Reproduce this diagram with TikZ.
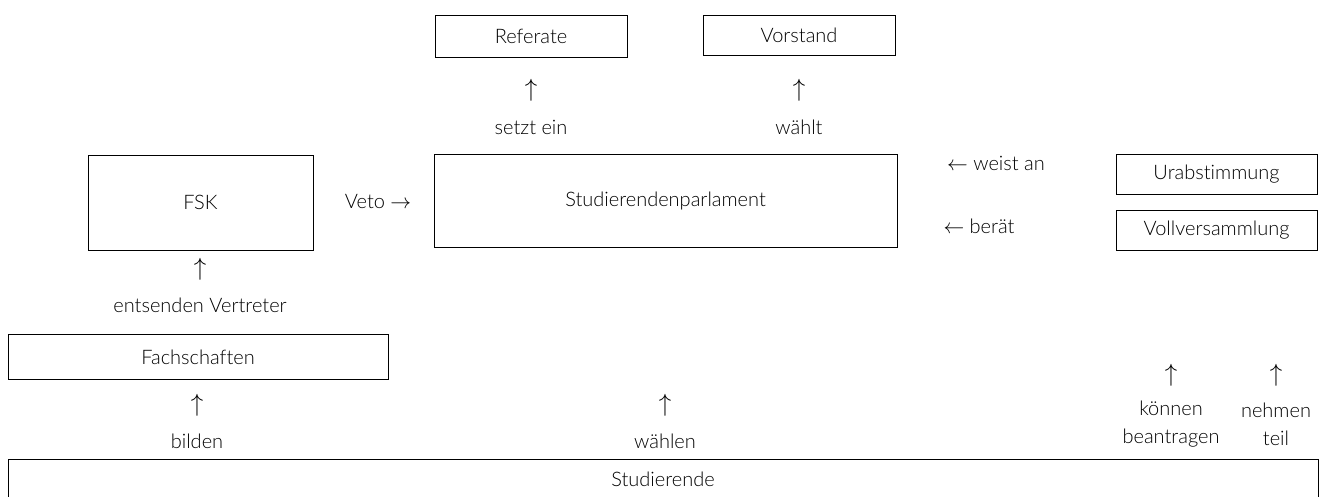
\documentclass[tikz,border=0pt]{standalone}
\usepackage{fontspec}
\setmainfont{Lato Light}[Ligatures=NoCommon]
\begin{document}
\begin{tikzpicture}[x=1pt,y=-1pt,
  lbl/.style={inner sep=0pt, align=center, font=\fontsize{20}{28}\selectfont},
  arr/.style={inner sep=0pt, font=\fontsize{24}{26}\selectfont},
  frame/.style={line width=0.9pt}]
\useasboundingbox (0,0) rectangle (1326,496);
% boxes
\draw[frame] (435,15) rectangle (627,57);
\node[lbl] (ref) at (531,36) {Referate};
\draw[frame] (703,15) rectangle (895,55);
\node[lbl] (vor) at (799,35) {Vorstand};
\draw[frame] (434,154) rectangle (897,247);
\node[lbl] (sp) at (665.5,200.5) {Studierendenparlament};
\draw[frame] (88,155) rectangle (313,250);
\node[lbl] (fsk) at (200.5,202.5) {FSK};
\draw[frame] (8,334) rectangle (388,379);
\node[lbl] (fs) at (198,357) {Fachschaften};
\draw[frame] (1116,154) rectangle (1317,194);
\node[lbl] (ur) at (1216.5,174) {Urabstimmung};
\draw[frame] (1116,210) rectangle (1317,250);
\node[lbl] (vv) at (1216.5,230) {Vollversammlung};
\draw[frame] (8,497) -- (8,459) -- (1318,459) -- (1318,497);
\node[lbl] (st) at (663,479) {Studierende};
% labels with arrows
\node[arr] (a1) at (531,90) {$\uparrow$};
\node[lbl] (l1) at (531,127) {setzt ein};
\node[arr] (a2) at (799,90) {$\uparrow$};
\node[lbl] (l2) at (799,127) {wählt};
\node[lbl] (veto) at (378,201) {Veto $\rightarrow$};
\node[lbl] (l3) at (996,163) {$\leftarrow$ weist an};
\node[lbl] (l4) at (979,226) {$\leftarrow$ berät};
\node[arr] (a3) at (200,269) {$\uparrow$};
\node[lbl] (l5) at (200,305) {entsenden Vertreter};
\node[arr] (a4) at (197,405) {$\uparrow$};
\node[lbl] (l6) at (197,441) {bilden};
\node[arr] (a5) at (665,405) {$\uparrow$};
\node[lbl] (l7) at (665,441) {wählen};
\node[arr] (a6) at (1171,375) {$\uparrow$};
\node[lbl] (l8) at (1171,424) {können\\beantragen};
\node[arr] (a7) at (1276,375) {$\uparrow$};
\node[lbl] (l9) at (1276,424) {nehmen\\teil};
\end{tikzpicture}
\end{document}
